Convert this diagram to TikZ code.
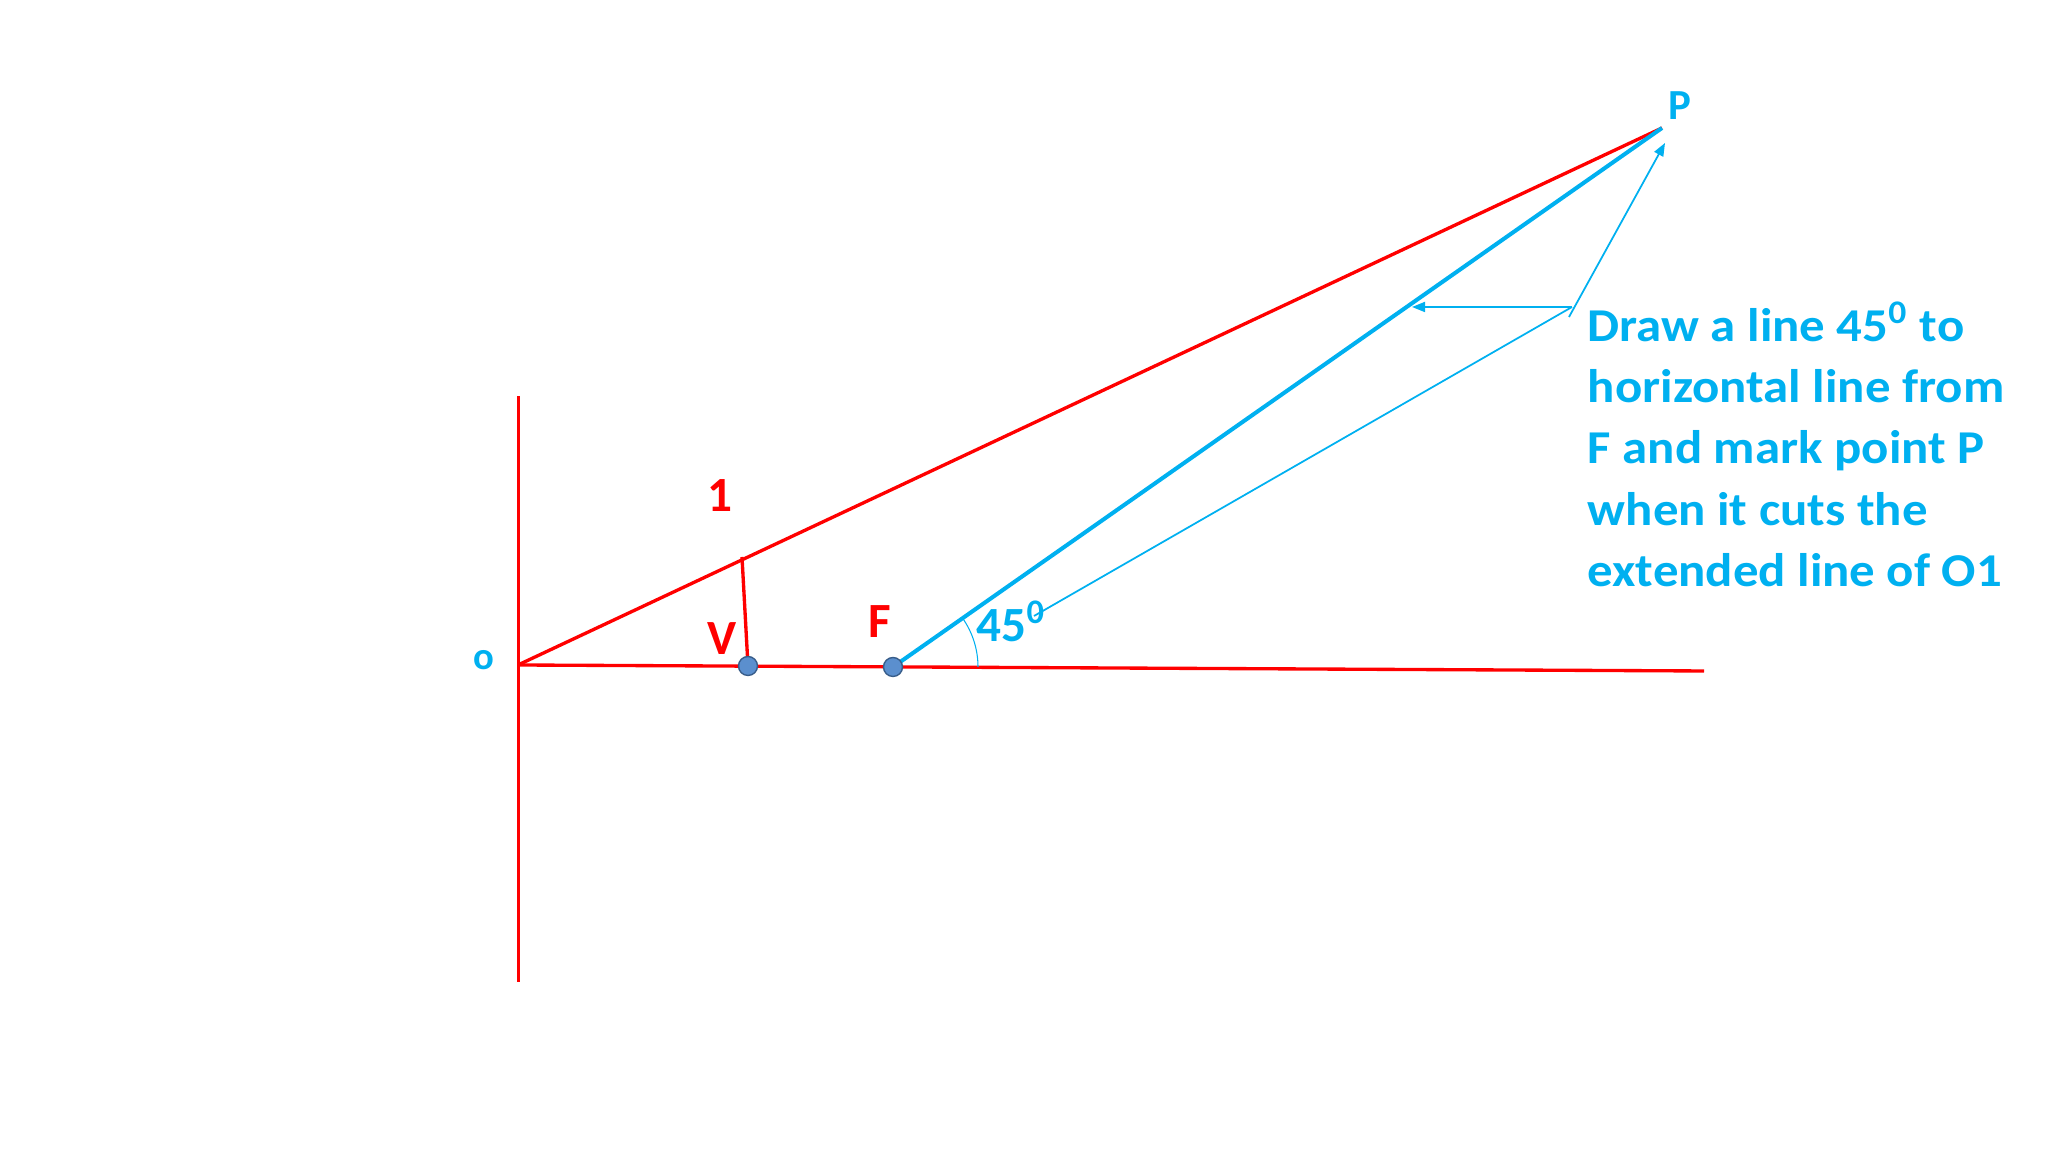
\documentclass[tikz,border=0pt]{standalone}
\usepackage{fontspec}
\setmainfont{Carlito}
\usetikzlibrary{arrows.meta}
\definecolor{ppred}{RGB}{255,0,0}
\definecolor{ppblue}{RGB}{0,176,240}
\definecolor{ptfill}{RGB}{91,143,206}
\definecolor{ptedge}{RGB}{56,93,138}
\begin{document}
\begin{tikzpicture}[line width=0.95pt,
	redline/.style={draw=ppred},
	blueline/.style={draw=ppblue,line width=1.15pt},
	thinblue/.style={draw=ppblue,line width=0.5pt},
	guide/.style={thinblue,-{Triangle[length=1.3mm,width=1mm]}},
	ptdot/.style={circle,fill=ptfill,draw=ptedge,line width=0.4pt,minimum size=1.9mm,inner sep=0pt},
	lbl/.style={font=\bfseries\fontsize{14}{16}\selectfont,inner sep=0pt}]
	\useasboundingbox (0,0) rectangle (20.48,11.52);
	%\draw[help lines] (0,0) grid (20,11);
	\coordinate (O) at (5.18,4.87);
	\coordinate (AxT) at (5.185,7.56);
	\coordinate (AxB) at (5.185,1.70);
	\coordinate (HzE) at (17.04,4.81);
	\coordinate (V) at (7.48,4.86);
	\coordinate (V1) at (7.42,5.95);
	\coordinate (F) at (8.93,4.85);
	\coordinate (P) at (16.62,10.24);
	\draw[redline] (AxB)--(AxT);
	\draw[redline] (O)--(HzE);
	\draw[redline] (O)--(P);
	\draw[redline] (V1)--(V);
	\draw[blueline] (F)--(P);
	\draw[ppblue,line width=0.3pt] ([xshift=0.85cm]F) arc (0:35:0.85);
	% pointers to P
	\coordinate (G1) at (10.34,5.36);
	\coordinate (G2) at (15.72,8.45);
	\coordinate (G3) at (14.12,8.45);
	\coordinate (G4) at (15.69,8.35);
	\coordinate (G5) at (16.65,10.09);
	\draw[thinblue] (G1)--(G2);
	\draw[guide] (G2)--(G3);
	\draw[guide] (G4)--(G5);
	\node[ptdot] (Vd) at (V) {};
	\node[ptdot] (Fd) at (F) {};
	\node[lbl,text=ppblue,font=\bfseries\fontsize{11}{12}\selectfont] (Olbl) at (4.84,4.92) {o};
	\node[lbl,text=ppred] (one) at (7.20,6.56) {1};
	\node[lbl,text=ppred] (Vlbl) at (7.22,5.13) {V};
	\node[lbl,text=ppred] (Flbl) at (8.80,5.30) {F};
	\node[lbl,text=ppblue,font=\bfseries\fontsize{12.2}{14}\selectfont] (Plbl) at (16.80,10.46) {P};
	\node[lbl,text=ppblue,anchor=base west] (ang) at (9.75,5.10) {45\textsuperscript{0}};
	\node[text=ppblue,font=\bfseries\fontsize{13.4}{17.4}\selectfont,align=left,anchor=north west,inner sep=0pt,xscale=1.08,transform shape] (note) at (15.86,8.52) {Draw a line 45\textsuperscript{0} to\\horizontal line from\\F and mark point P\\when it cuts the\\extended line of O1};
\end{tikzpicture}
\end{document}
